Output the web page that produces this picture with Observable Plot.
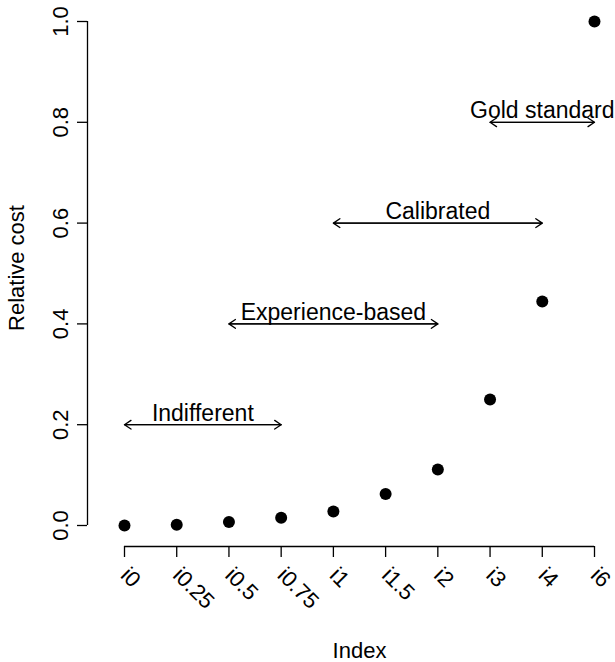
<!DOCTYPE html>
<html>
<head>
<meta charset="utf-8">
<script src="https://cdn.jsdelivr.net/npm/d3@7"></script>
<script src="https://cdn.jsdelivr.net/npm/@observablehq/plot@0.6"></script>
<style>
  html, body { margin: 0; padding: 0; background: #ffffff; }
  #chart svg { display: block; }
</style>
</head>
<body>
<div id="chart"></div>
<script>
// Index categories along the x axis, in plotting order
const indexLabels = ["i0", "i0.25", "i0.5", "i0.75", "i1", "i1.5", "i2", "i3", "i4", "i6"];
// Relative cost for each index
const relativeCost = [0, 0.0017, 0.0069, 0.0156, 0.0278, 0.0625, 0.1111, 0.25, 0.4444, 1.0];
// y axis ticks
const yTicks = [0, 0.2, 0.4, 0.6, 0.8, 1.0];

// Annotated ranges: name, first and last index covered, and height of the arrow
const rangeNames = ["Indifferent", "Experience-based", "Calibrated", "Gold standard"];
const rangeFrom = ["i0", "i0.5", "i1", "i3"];
const rangeTo = ["i0.75", "i2", "i4", "i6"];
const rangeLevel = [0.2, 0.4, 0.6, 0.8];

const pos = (label) => indexLabels.indexOf(label);
const xPositions = indexLabels.map((d, i) => i);
const points = indexLabels.map((label, i) => ({label, x: i, cost: relativeCost[i]}));
const ranges = rangeNames.map((name, i) => ({
  name,
  from: pos(rangeFrom[i]),
  to: pos(rangeTo[i]),
  level: rangeLevel[i]
}));

const lw = 1.3;
const font = "'Liberation Sans', Arial, Helvetica, sans-serif";

const chart = Plot.plot({
  width: 615,
  height: 662,
  marginLeft: 87,
  marginRight: 0,
  marginTop: 21,
  marginBottom: 116,
  style: {fontFamily: font, fontSize: "22px", background: "#ffffff", color: "#000000"},
  x: {type: "linear", domain: [0, indexLabels.length - 1], range: [124, 594], axis: null},
  y: {type: "linear", domain: [0, 1], range: [525, 21], axis: null},
  marks: [
    // axis lines spanning first to last tick
    Plot.ruleY([0], {x1: 0, x2: indexLabels.length - 1, dy: 21, stroke: "#000", strokeWidth: lw}),
    Plot.ruleX([0], {y1: 0, y2: 1, dx: -37, stroke: "#000", strokeWidth: lw}),
    Plot.axisX(xPositions, {
      tickSize: 11, tickRotate: 45, tickPadding: 14,
      tickFormat: (i) => indexLabels[i],
      fontSize: 22, strokeWidth: lw, label: null
    }),
    Plot.axisY(yTicks, {
      tickSize: 10, tickRotate: -90, tickPadding: 10,
      tickFormat: d3.format(".1f"),
      fontSize: 22, strokeWidth: lw, label: null
    }),
    // double-headed range arrows
    Plot.arrow(ranges, {x1: "from", x2: "to", y1: "level", y2: "level",
      stroke: "#000", strokeWidth: lw, headLength: 9, headAngle: 68}),
    Plot.arrow(ranges, {x1: "to", x2: "from", y1: "level", y2: "level",
      stroke: "#000", strokeWidth: lw, headLength: 9, headAngle: 68}),
    Plot.text(ranges, {x: (d) => (d.from + d.to) / 2, y: "level", text: "name",
      lineAnchor: "bottom", dy: -4, fontSize: 23, fill: "#000"}),
    // cost points
    Plot.dot(points, {x: "x", y: "cost", r: 6, fill: "#000", stroke: "none"}),
    // axis titles
    Plot.text(["Index"], {frameAnchor: "bottom", dx: 8, dy: 111, lineAnchor: "bottom", fontSize: 22, fill: "#000"}),
    Plot.text(["Relative cost"], {frameAnchor: "left", rotate: -90, textAnchor: "middle",
      lineAnchor: "bottom", dx: -64, dy: -16, fontSize: 22, fill: "#000"})
  ]
});

document.getElementById("chart").appendChild(chart);
</script>
</body>
</html>
